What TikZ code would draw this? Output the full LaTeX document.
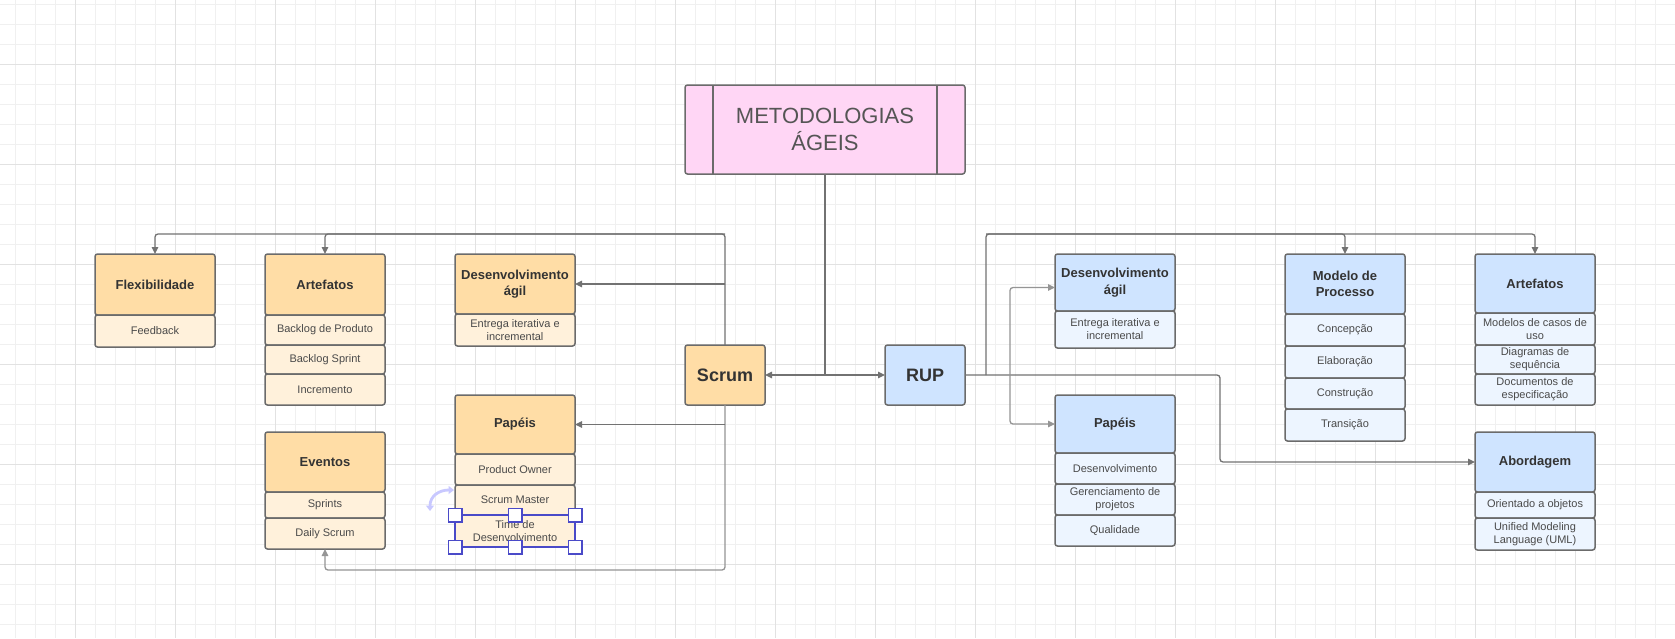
\documentclass[tikz,border=0pt]{standalone}
\usepackage{fontspec}
\setmainfont{Liberation Sans}
\usetikzlibrary{arrows.meta}
\definecolor{hdrO}{HTML}{FFDDA6}
\definecolor{rowO}{HTML}{FFF1DB}
\definecolor{hdrB}{HTML}{CFE4FF}
\definecolor{rowB}{HTML}{EDF5FF}
\definecolor{pinkT}{HTML}{FFD6F5}
\definecolor{edgeC}{HTML}{6B6B6B}
\definecolor{lineC}{HTML}{727272}
\definecolor{lineL}{HTML}{959595}
\definecolor{txtD}{HTML}{333333}
\definecolor{txtR}{HTML}{4A4A4A}
\definecolor{txtT}{HTML}{555555}
\definecolor{selB}{HTML}{4A4AC8}
\definecolor{lav}{HTML}{C8C8FF}
\definecolor{gridMinor}{HTML}{F0F0F0}
\definecolor{gridMajor}{HTML}{E2E2E2}
\newcommand\bx[7]{\node[#6, minimum width={(#4)-(#2)}, minimum height={(#5)-(#3)}] (#1) at ({((#2)+(#4))/2},{((#3)+(#5))/2}) {#7};}
\tikzset{
  box/.style={draw=edgeC, line width=1.5pt, rounded corners=2.5pt, inner sep=1pt, outer sep=0pt, align=center},
  hO/.style={box, fill=hdrO, text=txtD, font=\fontsize{13}{16.5}\selectfont\bfseries},
  rO/.style={box, fill=rowO, text=txtR, font=\fontsize{11}{13}\selectfont},
  hB/.style={box, fill=hdrB, text=txtD, font=\fontsize{13}{16.5}\selectfont\bfseries},
  rB/.style={box, fill=rowB, text=txtR, font=\fontsize{11}{13}\selectfont},
  bigO/.style={box, fill=hdrO, text=txtD, font=\fontsize{18}{20}\selectfont\bfseries},
  bigB/.style={box, fill=hdrB, text=txtD, font=\fontsize{18}{20}\selectfont\bfseries},
  titleBox/.style={box, fill=pinkT, text=txtT, font=\fontsize{22}{27}\selectfont},
  cl/.style={draw=lineC, line width=1.3pt, rounded corners=3pt},
  arr/.style={cl, -{Triangle[length=7pt,width=6.5pt]}},
  handle/.style={draw=selB, fill=white, line width=1.5pt, minimum size=13.5pt, inner sep=0pt, outer sep=0pt}
}
\begin{document}
\begin{tikzpicture}[x=1pt,y=-1pt]
\useasboundingbox (0,0) rectangle (1675,638);
\fill[white] (0,0) rectangle (1675,638);
% grid
\foreach \x in {15,35,...,1675} \draw[gridMinor, line width=1pt] (\x,0) -- (\x,638);
\foreach \y in {4,24,...,638} \draw[gridMinor, line width=1pt] (0,\y) -- (1675,\y);
\foreach \x in {75,175,...,1675} \draw[gridMajor, line width=1pt] (\x,0) -- (\x,638);
\foreach \y in {64,164,...,638} \draw[gridMajor, line width=1pt] (0,\y) -- (1675,\y);

% title
\bx{title}{685}{85}{965}{174}{titleBox}{METODOLOGIAS\\ÁGEIS}
\draw[edgeC, line width=1.5pt] ([xshift=28pt]title.north west) -- ([xshift=28pt]title.south west);
\draw[edgeC, line width=1.5pt] ([xshift=-28pt]title.north east) -- ([xshift=-28pt]title.south east);

% Scrum side
\bx{scrum}{685}{345}{765}{405}{bigO}{Scrum}
\bx{flexH}{95}{254}{215}{315}{hO}{Flexibilidade}
\bx{flexR1}{95}{315}{215}{347}{rO}{Feedback}
\bx{artH}{265}{254}{385}{315}{hO}{Artefatos}
\bx{artR1}{265}{315}{385}{345}{rO}{Backlog de Produto}
\bx{artR2}{265}{345}{385}{374}{rO}{Backlog Sprint}
\bx{artR3}{265}{374}{385}{405}{rO}{Incremento}
\bx{evH}{265}{432}{385}{492}{hO}{Eventos}
\bx{evR1}{265}{492}{385}{518}{rO}{Sprints}
\bx{evR2}{265}{518}{385}{549}{rO}{Daily Scrum}
\bx{desH}{455}{254}{575}{314}{hO}{Desenvolvimento\\ágil}
\bx{desR1}{455}{314}{575}{346}{rO}{Entrega iterativa e\\incremental}
\bx{papH}{455}{395}{575}{454}{hO}{Papéis}
\bx{papR1}{455}{454}{575}{485}{rO}{Product Owner}
\bx{papR2}{455}{485}{575}{515}{rO}{Scrum Master}
\bx{papR3}{455}{515}{575}{547}{rO}{Time de\\Desenvolvimento}

% RUP side
\bx{rup}{885}{345}{965}{405}{bigB}{RUP}
\bx{rdesH}{1055}{254}{1175}{311}{hB}{Desenvolvimento\\ágil}
\bx{rdesR1}{1055}{311}{1175}{348}{rB}{Entrega iterativa e\\incremental}
\bx{rpapH}{1055}{395}{1175}{453}{hB}{Papéis}
\bx{rpapR1}{1055}{453}{1175}{484}{rB}{Desenvolvimento}
\bx{rpapR2}{1055}{484}{1175}{515}{rB}{Gerenciamento de\\projetos}
\bx{rpapR3}{1055}{515}{1175}{546}{rB}{Qualidade}
\bx{modH}{1285}{254}{1405}{314}{hB}{Modelo de\\Processo}
\bx{modR1}{1285}{314}{1405}{346}{rB}{Concepção}
\bx{modR2}{1285}{346}{1405}{378}{rB}{Elaboração}
\bx{modR3}{1285}{378}{1405}{409}{rB}{Construção}
\bx{modR4}{1285}{409}{1405}{441}{rB}{Transição}
\bx{rartH}{1475}{254}{1595}{313}{hB}{Artefatos}
\bx{rartR1}{1475}{313}{1595}{345}{rB}{Modelos de casos de\\uso}
\bx{rartR2}{1475}{345}{1595}{374}{rB}{Diagramas de\\sequência}
\bx{rartR3}{1475}{374}{1595}{405}{rB}{Documentos de\\especificação}
\bx{abH}{1475}{432}{1595}{492}{hB}{Abordagem}
\bx{abR1}{1475}{492}{1595}{518}{rB}{Orientado a objetos}
\bx{abR2}{1475}{518}{1595}{550}{rB}{Unified Modeling\\Language (UML)}

% connectors: title
\coordinate (jT) at (825,375);
\draw[cl] (title.south) -- (jT);
\draw[arr] (jT) -- (scrum.east);
\draw[arr] (jT) -- (rup.west);

% connectors: Scrum
\coordinate (jS) at (725,234);
\draw[arr] (scrum.north) -- (jS) -| (flexH.north);
\draw[arr] (jS) -| (artH.north);
\draw[arr] (scrum.north |- desH.east) -- (desH.east);
\coordinate (jE) at (725,570);
\draw[arr, draw=lineL] (scrum.south) -- (jE) -| (evR2.south);
\draw[arr] (scrum.south |- papH.east) -- (papH.east);

% connectors: RUP
\coordinate (jR) at (1220,375);
\draw[arr] (rup.east) -- (jR) |- (abH.west);
\coordinate (jR1) at (986,375);
\coordinate (jR1t) at (986,234);
\draw[arr] (jR1) -- (jR1t) -| (modH.north);
\draw[arr] (jR1t) -| (rartH.north);
\coordinate (jR2) at (1010,375);
\draw[arr, draw=lineL] (jR2) |- ([yshift=-5pt]rdesH.west);
\draw[arr, draw=lineL] (jR2) |- (rpapH.west);

% selection overlay
\draw[selB, line width=1.5pt] (papR3.north west) rectangle (papR3.south east);
\foreach \p [count=\i] in {north west, north, north east, south west, south, south east}
  \node[handle] (hd\i) at (papR3.\p) {};
% rotation icon
\draw[lav, line width=2.8pt, {Triangle[length=5.5pt,width=8pt]}-{Triangle[length=5.5pt,width=8pt]}]
  (430,511) .. controls (430,496) and (439,490) .. (454,490);
\end{tikzpicture}
\end{document}
